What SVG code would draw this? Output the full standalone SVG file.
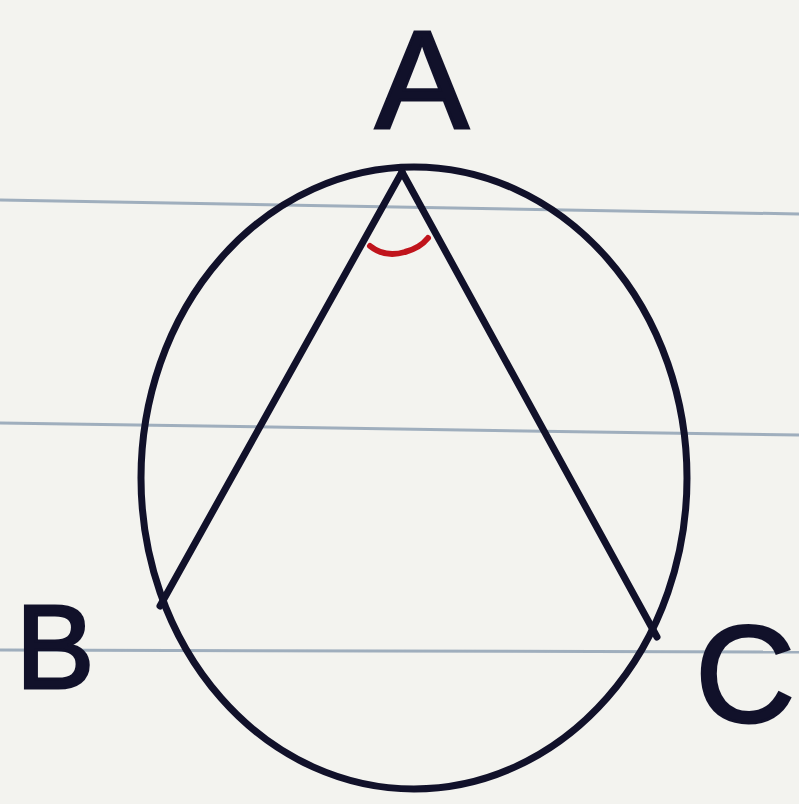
<svg xmlns="http://www.w3.org/2000/svg" width="799" height="804" viewBox="0 0 799 804">
<style>
.rule{stroke:#8a9cb0;stroke-width:3;fill:none;opacity:0.8}
.ink{stroke:#11112a;stroke-width:7;fill:none;stroke-linecap:round;stroke-linejoin:round}
.lbl{font-family:"Liberation Sans",Arial,sans-serif;fill:#11112a;stroke:#11112a;stroke-width:3;text-anchor:middle}
</style>
<rect width="799" height="804" fill="#f3f3ef"/>
<g id="paper">
<line class="rule" x1="0" y1="200" x2="799" y2="214"/>
<line class="rule" x1="0" y1="423" x2="799" y2="435"/>
<line class="rule" x1="0" y1="650" x2="799" y2="652" stroke="#8fb8c0"/>
</g>
<g id="circle"><ellipse class="ink" cx="414" cy="478" rx="273" ry="311"/></g>
<g id="connectors">
<line class="ink" x1="402" y1="172" x2="160" y2="606"/>
<line class="ink" x1="402" y1="172" x2="657" y2="637"/>
</g>
<g id="angle"><path d="M370 246 Q385 258 405 252 Q420 248 428 238" stroke="#c0141c" stroke-width="6" fill="none" stroke-linecap="round"/></g>
<g id="A"><text class="lbl" x="422" y="128" font-size="140">A</text></g>
<g id="B"><text class="lbl" x="55" y="688" font-size="118">B</text></g>
<g id="C"><text class="lbl" x="745" y="722" font-size="138">C</text></g>
</svg>
